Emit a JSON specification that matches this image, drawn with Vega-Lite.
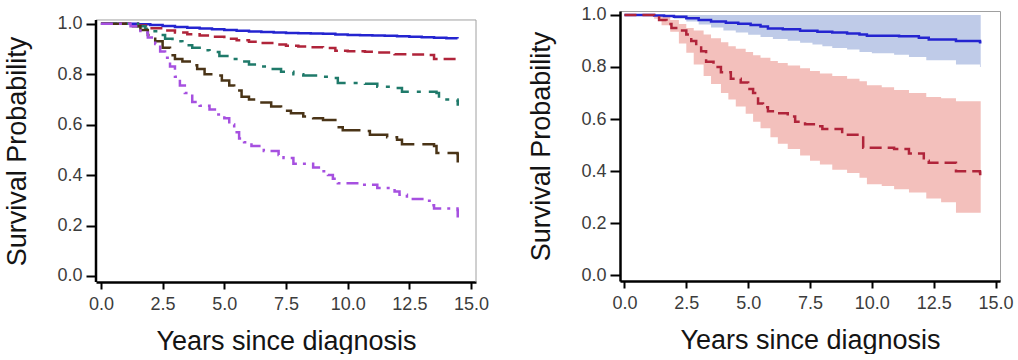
{
  "$schema": "https://vega.github.io/schema/vega-lite/v6.json",
  "padding": {"left": 3, "top": 5, "right": 5, "bottom": 0},
  "background": "white",
  "config": {
    "view": {"stroke": "#a0a0a0", "strokeWidth": 1},
    "concat": {"spacing": 38},
    "axis": {
      "grid": false,
      "domainColor": "#000000",
      "domainWidth": 2.5,
      "tickColor": "#000000",
      "tickWidth": 2,
      "labelFont": "Liberation Sans",
      "labelFontSize": 18,
      "labelColor": "#3c3c3c",
      "titleFont": "Liberation Sans",
      "titleFontSize": 27,
      "titleFontWeight": "normal",
      "titleColor": "#141414"
    },
    "axisX": {"tickSize": 7, "labelPadding": 6, "titlePadding": 15},
    "axisY": {"tickSize": 10, "labelPadding": 4, "titlePadding": 25}
  },
  "datasets": {
    "left": [
      {"g":"A","t":0,"s":1.0},{"g":"A","t":1.0,"s":1.0},{"g":"A","t":1.5,"s":0.998},{"g":"A","t":2.0,"s":0.995},{"g":"A","t":2.5,"s":0.991},{"g":"A","t":3.0,"s":0.987},{"g":"A","t":3.5,"s":0.984},{"g":"A","t":4.0,"s":0.981},{"g":"A","t":4.5,"s":0.978},{"g":"A","t":5.0,"s":0.975},{"g":"A","t":5.5,"s":0.972},{"g":"A","t":6.0,"s":0.969},{"g":"A","t":6.5,"s":0.967},{"g":"A","t":7.0,"s":0.965},{"g":"A","t":7.5,"s":0.963},{"g":"A","t":8.0,"s":0.962},{"g":"A","t":8.5,"s":0.961},{"g":"A","t":9.0,"s":0.960},{"g":"A","t":9.5,"s":0.957},{"g":"A","t":10.0,"s":0.955},{"g":"A","t":10.5,"s":0.954},{"g":"A","t":11.0,"s":0.953},{"g":"A","t":11.5,"s":0.952},{"g":"A","t":12.0,"s":0.950},{"g":"A","t":12.5,"s":0.948},{"g":"A","t":13.0,"s":0.946},{"g":"A","t":13.5,"s":0.944},{"g":"A","t":14.0,"s":0.942},{"g":"A","t":14.45,"s":0.941},
      {"g":"B","t":0,"s":1.0},{"g":"B","t":1.0,"s":1.0},{"g":"B","t":1.5,"s":0.993},{"g":"B","t":2.0,"s":0.982},{"g":"B","t":2.5,"s":0.973},{"g":"B","t":3.0,"s":0.965},{"g":"B","t":3.5,"s":0.958},{"g":"B","t":4.0,"s":0.953},{"g":"B","t":4.5,"s":0.948},{"g":"B","t":5.0,"s":0.940},{"g":"B","t":5.5,"s":0.934},{"g":"B","t":6.0,"s":0.928},{"g":"B","t":6.5,"s":0.923},{"g":"B","t":7.0,"s":0.918},{"g":"B","t":7.5,"s":0.913},{"g":"B","t":8.0,"s":0.910},{"g":"B","t":8.5,"s":0.907},{"g":"B","t":9.0,"s":0.904},{"g":"B","t":9.5,"s":0.893},{"g":"B","t":10.0,"s":0.891},{"g":"B","t":10.7,"s":0.889},{"g":"B","t":11.2,"s":0.886},{"g":"B","t":11.9,"s":0.879},{"g":"B","t":12.5,"s":0.878},{"g":"B","t":13.3,"s":0.876},{"g":"B","t":13.5,"s":0.860},{"g":"B","t":14.45,"s":0.857},{"g":"B","t":14.46,"s":0.85},
      {"g":"C","t":0,"s":1.0},{"g":"C","t":1.2,"s":1.0},{"g":"C","t":1.5,"s":0.99},{"g":"C","t":1.8,"s":0.98},{"g":"C","t":2.0,"s":0.97},{"g":"C","t":2.3,"s":0.955},{"g":"C","t":2.6,"s":0.94},{"g":"C","t":2.9,"s":0.93},{"g":"C","t":3.3,"s":0.915},{"g":"C","t":3.7,"s":0.905},{"g":"C","t":4.0,"s":0.895},{"g":"C","t":4.4,"s":0.888},{"g":"C","t":4.8,"s":0.872},{"g":"C","t":5.2,"s":0.86},{"g":"C","t":5.6,"s":0.85},{"g":"C","t":6.0,"s":0.838},{"g":"C","t":6.4,"s":0.83},{"g":"C","t":6.8,"s":0.82},{"g":"C","t":7.3,"s":0.81},{"g":"C","t":7.8,"s":0.80},{"g":"C","t":8.2,"s":0.795},{"g":"C","t":8.8,"s":0.79},{"g":"C","t":9.3,"s":0.785},{"g":"C","t":9.6,"s":0.765},{"g":"C","t":10.7,"s":0.762},{"g":"C","t":11.2,"s":0.75},{"g":"C","t":11.9,"s":0.745},{"g":"C","t":12.2,"s":0.73},{"g":"C","t":13.6,"s":0.725},{"g":"C","t":13.7,"s":0.70},{"g":"C","t":14.45,"s":0.695},{"g":"C","t":14.46,"s":0.675},
      {"g":"D","t":0,"s":1.0},{"g":"D","t":1.0,"s":1.0},{"g":"D","t":1.3,"s":0.99},{"g":"D","t":1.6,"s":0.975},{"g":"D","t":1.9,"s":0.955},{"g":"D","t":2.2,"s":0.93},{"g":"D","t":2.5,"s":0.905},{"g":"D","t":2.8,"s":0.875},{"g":"D","t":3.0,"s":0.86},{"g":"D","t":3.3,"s":0.85},{"g":"D","t":3.6,"s":0.835},{"g":"D","t":3.9,"s":0.82},{"g":"D","t":4.2,"s":0.80},{"g":"D","t":4.6,"s":0.795},{"g":"D","t":4.9,"s":0.775},{"g":"D","t":5.2,"s":0.755},{"g":"D","t":5.4,"s":0.735},{"g":"D","t":5.7,"s":0.71},{"g":"D","t":6.0,"s":0.70},{"g":"D","t":6.4,"s":0.688},{"g":"D","t":6.9,"s":0.672},{"g":"D","t":7.3,"s":0.655},{"g":"D","t":7.7,"s":0.645},{"g":"D","t":8.2,"s":0.632},{"g":"D","t":8.6,"s":0.625},{"g":"D","t":9.0,"s":0.618},{"g":"D","t":9.5,"s":0.59},{"g":"D","t":9.8,"s":0.578},{"g":"D","t":10.7,"s":0.575},{"g":"D","t":10.9,"s":0.56},{"g":"D","t":11.6,"s":0.55},{"g":"D","t":12.0,"s":0.54},{"g":"D","t":12.2,"s":0.522},{"g":"D","t":13.5,"s":0.515},{"g":"D","t":13.6,"s":0.487},{"g":"D","t":14.45,"s":0.484},{"g":"D","t":14.46,"s":0.45},
      {"g":"E","t":0,"s":1.0},{"g":"E","t":0.8,"s":1.0},{"g":"E","t":1.2,"s":0.99},{"g":"E","t":1.6,"s":0.965},{"g":"E","t":1.9,"s":0.945},{"g":"E","t":2.2,"s":0.92},{"g":"E","t":2.4,"s":0.89},{"g":"E","t":2.6,"s":0.865},{"g":"E","t":2.8,"s":0.83},{"g":"E","t":3.0,"s":0.79},{"g":"E","t":3.2,"s":0.755},{"g":"E","t":3.4,"s":0.725},{"g":"E","t":3.7,"s":0.69},{"g":"E","t":4.0,"s":0.675},{"g":"E","t":4.4,"s":0.66},{"g":"E","t":4.7,"s":0.64},{"g":"E","t":5.0,"s":0.625},{"g":"E","t":5.2,"s":0.60},{"g":"E","t":5.4,"s":0.57},{"g":"E","t":5.6,"s":0.545},{"g":"E","t":5.8,"s":0.53},{"g":"E","t":6.1,"s":0.515},{"g":"E","t":6.6,"s":0.495},{"g":"E","t":7.2,"s":0.48},{"g":"E","t":7.4,"s":0.468},{"g":"E","t":7.8,"s":0.445},{"g":"E","t":8.6,"s":0.43},{"g":"E","t":8.9,"s":0.415},{"g":"E","t":9.2,"s":0.40},{"g":"E","t":9.4,"s":0.385},{"g":"E","t":9.6,"s":0.368},{"g":"E","t":10.5,"s":0.362},{"g":"E","t":11.2,"s":0.349},{"g":"E","t":11.9,"s":0.335},{"g":"E","t":12.1,"s":0.322},{"g":"E","t":12.4,"s":0.305},{"g":"E","t":13.3,"s":0.298},{"g":"E","t":13.4,"s":0.28},{"g":"E","t":13.5,"s":0.268},{"g":"E","t":14.45,"s":0.262},{"g":"E","t":14.46,"s":0.232}
    ],
    "rlines": [
      {"g":"P","t":0,"s":1.0},{"g":"P","t":0.8,"s":1.0},{"g":"P","t":1.2,"s":0.998},{"g":"P","t":1.6,"s":0.996},{"g":"P","t":2.0,"s":0.993},{"g":"P","t":2.5,"s":0.987},{"g":"P","t":3.0,"s":0.98},{"g":"P","t":3.5,"s":0.975},{"g":"P","t":4.1,"s":0.970},{"g":"P","t":4.6,"s":0.966},{"g":"P","t":5.1,"s":0.961},{"g":"P","t":5.5,"s":0.955},{"g":"P","t":5.8,"s":0.948},{"g":"P","t":6.4,"s":0.945},{"g":"P","t":7.1,"s":0.939},{"g":"P","t":7.8,"s":0.935},{"g":"P","t":8.4,"s":0.932},{"g":"P","t":9.0,"s":0.929},{"g":"P","t":9.5,"s":0.925},{"g":"P","t":9.8,"s":0.92},{"g":"P","t":11.1,"s":0.918},{"g":"P","t":11.9,"s":0.912},{"g":"P","t":12.3,"s":0.906},{"g":"P","t":13.4,"s":0.90},{"g":"P","t":14.37,"s":0.896},{"g":"P","t":14.38,"s":0.89},
      {"g":"Q","t":0,"s":1.0},{"g":"Q","t":0.9,"s":1.0},{"g":"Q","t":1.2,"s":0.99},{"g":"Q","t":1.4,"s":0.98},{"g":"Q","t":1.7,"s":0.965},{"g":"Q","t":1.9,"s":0.95},{"g":"Q","t":2.2,"s":0.94},{"g":"Q","t":2.5,"s":0.925},{"g":"Q","t":2.7,"s":0.90},{"g":"Q","t":2.9,"s":0.875},{"g":"Q","t":3.1,"s":0.86},{"g":"Q","t":3.3,"s":0.82},{"g":"Q","t":3.6,"s":0.80},{"g":"Q","t":3.9,"s":0.78},{"g":"Q","t":4.3,"s":0.755},{"g":"Q","t":4.7,"s":0.74},{"g":"Q","t":5.0,"s":0.715},{"g":"Q","t":5.2,"s":0.70},{"g":"Q","t":5.4,"s":0.66},{"g":"Q","t":5.6,"s":0.645},{"g":"Q","t":5.8,"s":0.63},{"g":"Q","t":6.2,"s":0.622},{"g":"Q","t":6.6,"s":0.61},{"g":"Q","t":6.9,"s":0.59},{"g":"Q","t":7.3,"s":0.58},{"g":"Q","t":7.8,"s":0.572},{"g":"Q","t":8.0,"s":0.562},{"g":"Q","t":8.8,"s":0.54},{"g":"Q","t":9.6,"s":0.535},{"g":"Q","t":9.65,"s":0.49},{"g":"Q","t":10.9,"s":0.485},{"g":"Q","t":11.5,"s":0.468},{"g":"Q","t":12.1,"s":0.44},{"g":"Q","t":12.3,"s":0.432},{"g":"Q","t":13.4,"s":0.40},{"g":"Q","t":14.37,"s":0.395},{"g":"Q","t":14.38,"s":0.362}
    ],
    "rbands": [
      {"g":"Q","t":0,"lo":1.0,"hi":1.0},{"g":"Q","t":0.9,"lo":1.0,"hi":1.0},{"g":"Q","t":1.2,"lo":0.985,"hi":1.0},{"g":"Q","t":1.5,"lo":0.96,"hi":0.995},{"g":"Q","t":1.85,"lo":0.935,"hi":0.98},{"g":"Q","t":2.2,"lo":0.89,"hi":0.965},{"g":"Q","t":2.5,"lo":0.855,"hi":0.95},{"g":"Q","t":2.8,"lo":0.81,"hi":0.94},{"g":"Q","t":3.2,"lo":0.765,"hi":0.925},{"g":"Q","t":3.5,"lo":0.735,"hi":0.91},{"g":"Q","t":3.9,"lo":0.70,"hi":0.895},{"g":"Q","t":4.2,"lo":0.675,"hi":0.88},{"g":"Q","t":4.5,"lo":0.648,"hi":0.87},{"g":"Q","t":4.9,"lo":0.62,"hi":0.858},{"g":"Q","t":5.2,"lo":0.59,"hi":0.845},{"g":"Q","t":5.5,"lo":0.565,"hi":0.835},{"g":"Q","t":5.9,"lo":0.53,"hi":0.823},{"g":"Q","t":6.2,"lo":0.505,"hi":0.815},{"g":"Q","t":6.6,"lo":0.485,"hi":0.806},{"g":"Q","t":7.1,"lo":0.46,"hi":0.795},{"g":"Q","t":7.5,"lo":0.44,"hi":0.785},{"g":"Q","t":7.9,"lo":0.425,"hi":0.775},{"g":"Q","t":8.4,"lo":0.405,"hi":0.765},{"g":"Q","t":9.0,"lo":0.393,"hi":0.755},{"g":"Q","t":9.5,"lo":0.375,"hi":0.745},{"g":"Q","t":9.8,"lo":0.35,"hi":0.73},{"g":"Q","t":10.4,"lo":0.343,"hi":0.722},{"g":"Q","t":10.9,"lo":0.33,"hi":0.712},{"g":"Q","t":11.5,"lo":0.318,"hi":0.70},{"g":"Q","t":12.2,"lo":0.295,"hi":0.685},{"g":"Q","t":12.8,"lo":0.28,"hi":0.68},{"g":"Q","t":13.4,"lo":0.24,"hi":0.668},{"g":"Q","t":14.4,"lo":0.24,"hi":0.668},
      {"g":"P","t":0,"lo":1.0,"hi":1.0},{"g":"P","t":1.0,"lo":0.997,"hi":1.0},{"g":"P","t":1.5,"lo":0.992,"hi":1.0},{"g":"P","t":2.0,"lo":0.985,"hi":1.0},{"g":"P","t":2.5,"lo":0.975,"hi":1.0},{"g":"P","t":3.0,"lo":0.963,"hi":1.0},{"g":"P","t":3.5,"lo":0.952,"hi":1.0},{"g":"P","t":4.0,"lo":0.94,"hi":1.0},{"g":"P","t":4.5,"lo":0.932,"hi":1.0},{"g":"P","t":5.0,"lo":0.924,"hi":1.0},{"g":"P","t":5.5,"lo":0.915,"hi":1.0},{"g":"P","t":6.0,"lo":0.907,"hi":1.0},{"g":"P","t":6.6,"lo":0.901,"hi":1.0},{"g":"P","t":7.1,"lo":0.893,"hi":1.0},{"g":"P","t":7.6,"lo":0.886,"hi":1.0},{"g":"P","t":8.0,"lo":0.88,"hi":1.0},{"g":"P","t":8.4,"lo":0.873,"hi":1.0},{"g":"P","t":9.0,"lo":0.867,"hi":1.0},{"g":"P","t":9.5,"lo":0.858,"hi":1.0},{"g":"P","t":10.0,"lo":0.853,"hi":1.0},{"g":"P","t":10.9,"lo":0.847,"hi":1.0},{"g":"P","t":11.5,"lo":0.838,"hi":1.0},{"g":"P","t":12.2,"lo":0.826,"hi":1.0},{"g":"P","t":13.4,"lo":0.81,"hi":1.0},{"g":"P","t":14.37,"lo":0.80,"hi":1.0},{"g":"P","t":14.4,"lo":0.80,"hi":1.0}
    ]
  },
  "hconcat": [
    {
      "width": 380,
      "height": 271,
      "view": {"stroke": null},
      "layer": [
        {
          "data": {"name": "left"},
          "mark": {"type": "line", "interpolate": "step-after", "strokeWidth": 2.5},
          "encoding": {
            "x": {"field": "t", "type": "quantitative",
                  "scale": {"domain": [-0.2, 15.2], "nice": false, "zero": false},
                  "axis": {"title": "Years since diagnosis", "values": [0, 2.5, 5, 7.5, 10, 12.5, 15], "format": ".1f"}},
            "y": {"field": "s", "type": "quantitative",
                  "scale": {"domain": [-0.0238, 1.0503], "nice": false, "zero": false},
                  "axis": {"title": "Survival Probability", "values": [0, 0.2, 0.4, 0.6, 0.8, 1.0], "format": ".1f", "domain": false, "titleY": 140}},
            "stroke": {"field": "g", "type": "nominal", "legend": null,
                       "scale": {"domain": ["A","B","C","D","E"], "range": ["#2424d0","#b0243a","#1f7a6a","#4a3417","#a650e0"]}},
            "strokeDash": {"field": "g", "type": "nominal", "legend": null,
                       "scale": {"domain": ["A","B","C","D","E"], "range": [[1,0],[12,6],[16,8,4,8],[26,8],[12,6,3,6]]}}
          }
        },
        {
          "data": {"values": [{}]},
          "mark": {"type": "rule", "color": "#a0a0a0", "strokeWidth": 1},
          "encoding": {"x": {"datum": -0.2}, "x2": {"datum": 15.2}, "y": {"datum": 1.0147}}
        },
        {
          "data": {"values": [{}]},
          "mark": {"type": "rule", "color": "#a0a0a0", "strokeWidth": 1},
          "encoding": {"x": {"datum": 15.2}, "y": {"datum": -0.0238}, "y2": {"datum": 1.0147}}
        },
        {
          "data": {"values": [{}]},
          "mark": {"type": "rule", "color": "#000000", "strokeWidth": 2.5},
          "encoding": {"x": {"datum": -0.2}, "y": {"datum": -0.0238}, "y2": {"datum": 1.0147}}
        }
      ]
    },
    {
      "width": 380,
      "height": 270,
      "layer": [
        {
          "data": {"name": "rbands"},
          "mark": {"type": "area", "interpolate": "step-after"},
          "encoding": {
            "x": {"field": "t", "type": "quantitative",
                  "scale": {"domain": [-0.18, 15.18], "nice": false, "zero": false},
                  "axis": {"title": "Years since diagnosis", "values": [0, 2.5, 5, 7.5, 10, 12.5, 15], "format": ".1f"}},
            "y": {"field": "lo", "type": "quantitative",
                  "scale": {"domain": [-0.022, 1.015], "nice": false, "zero": false},
                  "axis": {"title": "Survival Probability", "values": [0, 0.2, 0.4, 0.6, 0.8, 1.0], "format": ".1f"}},
            "y2": {"field": "hi"},
            "fill": {"field": "g", "type": "nominal", "legend": null,
                     "scale": {"domain": ["P","Q"], "range": ["#bfcbe8","#f3c0bc"]}}
          }
        },
        {
          "data": {"name": "rlines"},
          "mark": {"type": "line", "interpolate": "step-after", "strokeWidth": 2.5},
          "encoding": {
            "x": {"field": "t", "type": "quantitative"},
            "y": {"field": "s", "type": "quantitative"},
            "stroke": {"field": "g", "type": "nominal", "legend": null,
                       "scale": {"domain": ["P","Q"], "range": ["#1c1cc8","#a81a2c"]}},
            "strokeDash": {"field": "g", "type": "nominal", "legend": null,
                       "scale": {"domain": ["P","Q"], "range": [[1,0],[12,6]]}}
          }
        }
      ]
    }
  ]
}
